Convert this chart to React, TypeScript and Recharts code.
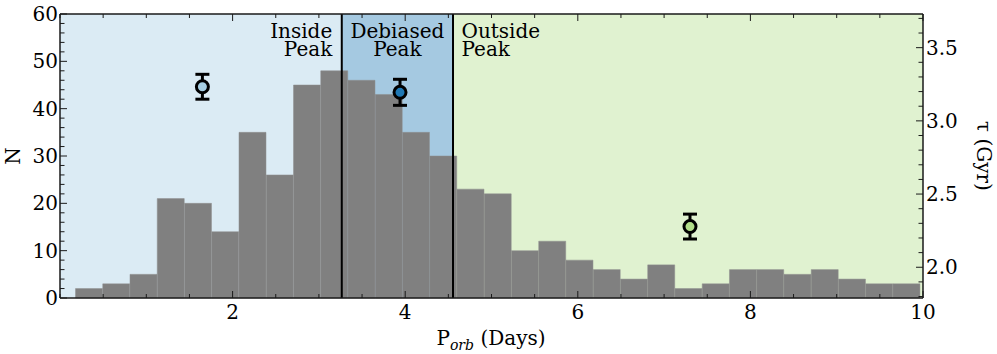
import { ComposedChart, Bar, Scatter, ErrorBar, XAxis, YAxis, ReferenceArea, ReferenceLine } from "recharts"

// histogram of orbital periods (bin centres in days, counts)
const binCenters = [
  0.338, 0.654, 0.969, 1.285, 1.601, 1.916, 2.232, 2.548, 2.863, 3.179, 3.495, 3.811, 4.126, 4.442, 4.758, 5.073,
  5.389, 5.705, 6.02, 6.336, 6.652, 6.967, 7.283, 7.599, 7.915, 8.23, 8.546, 8.862, 9.177, 9.493, 9.809,
]
const counts = [2, 3, 5, 21, 20, 14, 35, 26, 45, 48, 46, 43, 35, 30, 23, 22, 10, 12, 8, 6, 4, 7, 2, 3, 6, 6, 5, 6, 4, 3, 3]

// ages of the three samples
const agePeriods = [1.65, 3.94, 7.3]
const ages = [3.233, 3.195, 2.278]
const ageErrors = [0.085, 0.089, 0.085]

// region boundaries
const peakStart = 3.265
const peakEnd = 4.554

const xTickLabels = [2, 4, 6, 8, 10]
const nTickLabels = [0, 10, 20, 30, 40, 50, 60]
const tauTickLabels = [2.0, 2.5, 3.0, 3.5]

const xTicks = Array.from({ length: 21 }, (_, i) => i * 0.5)
const nTicks = Array.from({ length: 31 }, (_, i) => i * 2)
const tauTicks = Array.from({ length: 20 }, (_, i) => Math.round((1.8 + i * 0.1) * 10) / 10)

const markerColors = ["#a6cee3", "#1f78b4", "#b2df8a"]

const FONT = "DejaVu Serif"
const frame = { stroke: "#1a1a1a", strokeWidth: 1.5 }

const histData = binCenters.map((p, i) => ({ p, bin: `b${i}`, n: counts[i] }))
const ageData = agePeriods.map((p, i) => ({ p, tau: ages[i], err: ageErrors[i] }))

const isIn = (list: number[], v: number) => list.some((t) => Math.abs(t - v) < 1e-6)

function BottomTick(props: any) {
  const { x, y, payload } = props
  const major = isIn(xTickLabels, payload.value)
  return (
    <g>
      <line x1={x} x2={x} y1={y} y2={y - (major ? 7 : 4)} stroke="#1a1a1a" strokeWidth={1} />
      {major && (
        <text x={x} y={y + 21} textAnchor="middle" fontFamily={FONT} fontSize={20} fill="#000">
          {payload.value}
        </text>
      )}
    </g>
  )
}

function TopTick(props: any) {
  const { x, y, payload } = props
  const major = isIn(xTickLabels, payload.value)
  return <line x1={x} x2={x} y1={y} y2={y + (major ? 7 : 4)} stroke="#1a1a1a" strokeWidth={1} />
}

function LeftTick(props: any) {
  const { x, y, payload } = props
  const major = isIn(nTickLabels, payload.value)
  return (
    <g>
      <line x1={x} x2={x + (major ? 7 : 4.5)} y1={y} y2={y} stroke="#1a1a1a" strokeWidth={1} />
      {major && (
        <text x={x - 2} y={y + 7} textAnchor="end" fontFamily={FONT} fontSize={20} fill="#000">
          {payload.value}
        </text>
      )}
    </g>
  )
}

function RightTick(props: any) {
  const { x, y, payload } = props
  const major = isIn(tauTickLabels, payload.value)
  return (
    <g>
      <line x1={x} x2={x - (major ? 7 : 4.5)} y1={y} y2={y} stroke="#1a1a1a" strokeWidth={1} />
      {major && (
        <text x={x + 3} y={y + 7} textAnchor="start" fontFamily={FONT} fontSize={20} fill="#000">
          {payload.value.toFixed(1)}
        </text>
      )}
    </g>
  )
}

function Marker(props: any) {
  const { cx, cy, payload } = props
  const color = markerColors[agePeriods.indexOf(payload.p)]
  return <circle cx={cx} cy={cy} r={6} fill={color} stroke="#000" strokeWidth={3} />
}

const twoLines = (x: number, y: number, anchor: string, lines: string[]) => (
  <g>
    <text x={x} y={y} textAnchor={anchor} fontFamily={FONT} fontSize={20} fill="#000">
      {lines[0]}
    </text>
    <text x={x} y={y + 18.5} textAnchor={anchor} fontFamily={FONT} fontSize={20} fill="#000">
      {lines[1]}
    </text>
  </g>
)

export default function App() {
  return (
    <div style={{ position: "fixed", left: 0, top: 0, background: "#fff" }}>
      <ComposedChart
        width={997}
        height={354}
        data={histData}
        margin={{ top: 0, right: 0, bottom: 0, left: 0 }}
        barCategoryGap={0}
        barGap={0}
      >
        <XAxis
          xAxisId="b"
          dataKey="p"
          type="number"
          domain={[0, 10]}
          ticks={xTicks}
          interval={0}
          height={56}
          tickSize={0}
          tickMargin={0}
          tick={<BottomTick />}
          axisLine={frame}
          allowDataOverflow
          label={{
            content: () => (
              <text x={491} y={345} textAnchor="middle" fontFamily={FONT} fontSize={20} fill="#000">
                P<tspan fontSize={14} fontStyle="italic" dy={5}>orb</tspan>
                <tspan dy={-5}> (Days)</tspan>
              </text>
            ),
          }}
        />
        {/* hidden band axis for the histogram bins (0.18 .. 9.97 days) */}
        <XAxis xAxisId="bins" dataKey="bin" type="category" hide padding={{ left: 15.5, right: 2.8 }} />
        <XAxis
          xAxisId="t"
          orientation="top"
          dataKey="p"
          type="number"
          domain={[0, 10]}
          ticks={xTicks}
          interval={0}
          height={14}
          tickSize={0}
          tickMargin={0}
          tick={<TopTick />}
          axisLine={frame}
          allowDataOverflow
        />
        <YAxis
          yAxisId="n"
          type="number"
          domain={[0, 60]}
          ticks={nTicks}
          interval={0}
          width={60}
          tickSize={0}
          tickMargin={0}
          tick={<LeftTick />}
          axisLine={frame}
          label={{
            content: () => (
              <text x={20} y={156} textAnchor="middle" fontFamily={FONT} fontSize={20} fill="#000" transform="rotate(-90 20 156)">
                N
              </text>
            ),
          }}
        />
        <YAxis
          yAxisId="tau"
          orientation="right"
          type="number"
          dataKey="tau"
          domain={[1.79, 3.73]}
          ticks={tauTicks}
          interval={0}
          width={74}
          tickSize={0}
          tickMargin={0}
          tick={<RightTick />}
          axisLine={frame}
          allowDataOverflow
          label={{
            content: () => (
              <text x={977} y={156} textAnchor="middle" fontFamily={FONT} fontSize={20} fill="#000" transform="rotate(90 977 156)">
                τ (Gyr)
              </text>
            ),
          }}
        />

        <ReferenceArea xAxisId="b" yAxisId="n" x1={0} x2={peakStart} y1={0} y2={60} fill="#a6cee3" fillOpacity={0.4} stroke="none" />
        <ReferenceArea
          xAxisId="b"
          yAxisId="n"
          x1={peakStart}
          x2={peakEnd}
          y1={0}
          y2={60}
          fill="#1f78b4"
          fillOpacity={0.4}
          stroke="none"
          label={{
            content: (p: any) => twoLines(p.viewBox.x + p.viewBox.width / 2, 37.5, "middle", ["Debiased", "Peak"]),
          }}
        />
        <ReferenceArea xAxisId="b" yAxisId="n" x1={peakEnd} x2={10} y1={0} y2={60} fill="#b2df8a" fillOpacity={0.4} stroke="none" />

        <Bar
          xAxisId="bins"
          yAxisId="n"
          dataKey="n"
          fill="#808080"
          stroke="#8e8e8e"
          strokeWidth={0.5}
          isAnimationActive={false}
        />

        <ReferenceLine
          xAxisId="b"
          yAxisId="n"
          x={peakStart}
          stroke="#000"
          strokeWidth={2}
          label={{ content: (p: any) => twoLines(p.viewBox.x - 9.5, 37.5, "end", ["Inside", "Peak"]) }}
        />
        <ReferenceLine
          xAxisId="b"
          yAxisId="n"
          x={peakEnd}
          stroke="#000"
          strokeWidth={2}
          label={{ content: (p: any) => twoLines(p.viewBox.x + 8.5, 37.5, "start", ["Outside", "Peak"]) }}
        />

        <Scatter xAxisId="b" yAxisId="tau" data={ageData} dataKey="tau" shape={<Marker />} isAnimationActive={false}>
          <ErrorBar dataKey="err" direction="y" width={7} strokeWidth={3} stroke="#000" />
        </Scatter>
      </ComposedChart>
    </div>
  )
}
